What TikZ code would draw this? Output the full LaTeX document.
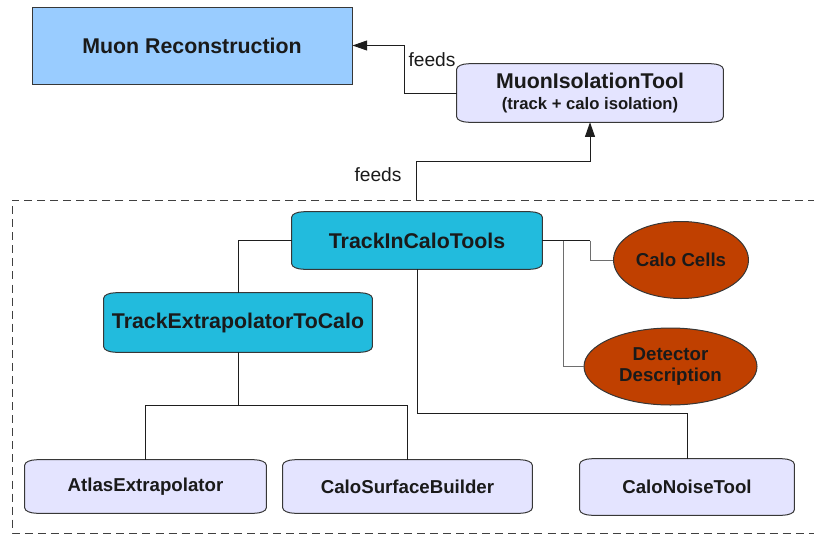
\documentclass[tikz,border=0pt]{standalone}
\usepackage{fontspec}
\setmainfont{Liberation Sans}
\usetikzlibrary{arrows.meta,calc,backgrounds,shapes.geometric}
\definecolor{muonblue}{RGB}{153,204,255}
\definecolor{lav}{RGB}{228,228,255}
\definecolor{cyanbox}{RGB}{34,187,221}
\definecolor{rust}{RGB}{192,64,0}
\definecolor{ink}{RGB}{26,26,26}
\definecolor{edge}{RGB}{55,55,55}
\definecolor{wire}{RGB}{30,30,30}
\definecolor{greywire}{RGB}{110,110,110}
\tikzset{
  lbl/.style={inner sep=0pt, text=ink, align=center},
  bigtxt/.style={font=\fontsize{16}{18}\selectfont\bfseries},
  midtxt/.style={font=\fontsize{14}{15}\selectfont\bfseries},
  feedtxt/.style={inner sep=0pt, text=ink, font=\fontsize{14.4}{16}\selectfont},
  conn/.style={draw=wire, line width=0.75pt},
  greyconn/.style={draw=greywire, line width=0.75pt},
  arr/.style={-{Triangle[length=11pt,width=7.5pt]}},
  shapeline/.style={draw=edge, line width=0.75pt},
  ovalnode/.style={ellipse, draw=edge, line width=0.75pt, fill=rust, inner sep=0pt, text=ink, align=center},
  dashbox/.style={draw=black!75, line width=0.75pt, dash pattern=on 6pt off 3.8pt}
}
\newcommand\toolshape[2]{%
  \path[shapeline, fill=#2]
    ([yshift=-4pt]#1.north west) arc[start angle=180,end angle=90,x radius=9pt,y radius=4pt]
    -- ([xshift=-9pt]#1.north east) arc[start angle=90,end angle=0,x radius=9pt,y radius=4pt]
    -- ([yshift=4pt]#1.south east) arc[start angle=0,end angle=-90,x radius=9pt,y radius=4pt]
    -- ([xshift=9pt]#1.south west) arc[start angle=270,end angle=180,x radius=9pt,y radius=4pt]
    -- cycle;}
\begin{document}
\begin{tikzpicture}[x=0.75pt,y=-0.75pt]
\useasboundingbox (0,0) rectangle (814,536);
% dashed frame (right side lies outside the picture)
\draw[dashbox] (816,200) -- (12,200) -- (12,533) -- (816,533);
% nodes
\node[draw=edge, line width=0.75pt, fill=muonblue, lbl, bigtxt, minimum width=240pt, minimum height=57.75pt] (muon) at (192,45.5) {Muon Reconstruction};
\node[lbl, minimum width=199.5pt, minimum height=43.5pt, font=\fontsize{12.5}{15}\selectfont\bfseries] (iso) at (590,93)
  {{\fontsize{16}{15}\selectfont MuonIsolationTool}\\[1pt](track + calo isolation)};
\node[lbl, bigtxt, minimum width=187.5pt, minimum height=42.75pt] (tic) at (417,240.5) {TrackInCaloTools};
\node[lbl, bigtxt, minimum width=201pt, minimum height=44.25pt] (tec) at (238,322.5) {TrackExtrapolatorToCalo};
\node[ovalnode, midtxt, minimum width=101.25pt, minimum height=57.75pt] (cells) at (681,260) {Calo Cells};
\node[ovalnode, midtxt, minimum width=129.75pt, minimum height=57.75pt] (det) at (670.5,366.5) {Detector\\[0.5pt]Description};
\node[lbl, midtxt, minimum width=180.75pt, minimum height=39.75pt] (atlas) at (145.5,486.5) {AtlasExtrapolator};
\node[lbl, midtxt, minimum width=186.75pt, minimum height=39.75pt] (csb) at (407.5,486.5) {CaloSurfaceBuilder};
\node[lbl, midtxt, minimum width=160.5pt, minimum height=42pt] (cnt) at (687,487) {CaloNoiseTool};
\begin{scope}[on background layer]
  \toolshape{iso}{lav}
  \toolshape{tic}{cyanbox}
  \toolshape{tec}{cyanbox}
  \toolshape{atlas}{lav}
  \toolshape{csb}{lav}
  \toolshape{cnt}{lav}
\end{scope}
% labels
\node[feedtxt] (feed1) at (432,60) {feeds};
\node[feedtxt] (feed2) at (378,175) {feeds};
\coordinate (boxtop) at (416,200);
% connectors
\draw[conn, arr] (iso.west) -- ++(-52,0) |- (muon.east);
\draw[conn, arr] (boxtop) -- ++(0,-39) -| (iso.south);
\draw[conn] (tic.west) -| (tec.north);
\draw[conn] (tec.south) -- ++(0,53.5) coordinate (split);
\draw[conn] (split) -| (atlas.north);
\draw[conn] (split) -| (csb.north);
\draw[conn] (tic.south) -- ++(0,144) -| (cnt.north);
\draw[conn] (tic.east) -- ++(48,0) coordinate (ce);
\draw[greyconn] (ce) |- (cells.west);
\coordinate (dj) at ($(tic.east)+(21,0)$);
\draw[greyconn] (dj) |- (det.west);
\end{tikzpicture}
\end{document}
